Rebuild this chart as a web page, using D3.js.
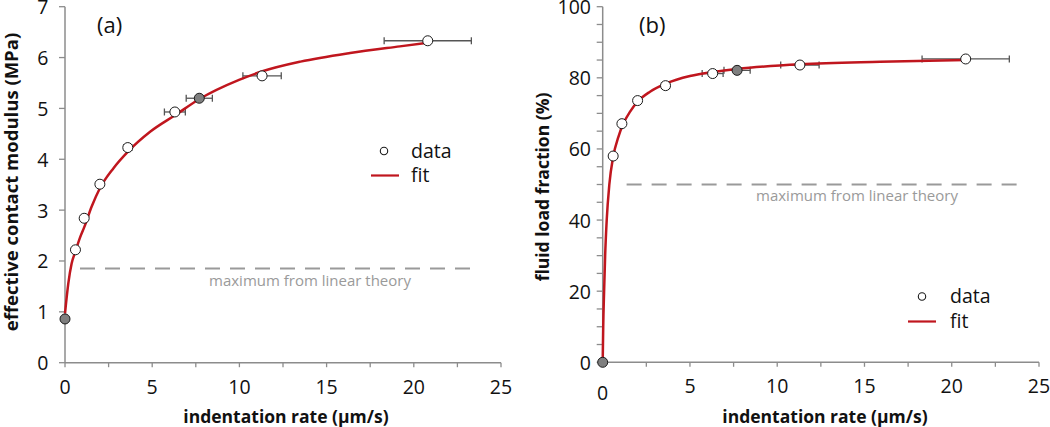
<!DOCTYPE html>
<html><head><meta charset="utf-8">
<script src="https://cdn.jsdelivr.net/npm/d3@7"></script>
<style>body{margin:0;background:#fff}svg{display:block}text{font-family:"Open Sans",sans-serif}</style>
</head><body>
<svg id="c" width="1050" height="427"></svg>
<script>
// ---- data ----
const rates = [0, 0.6, 1.1, 2.0, 3.6, 6.3, 7.7, 11.3, 20.8];
const rateErr = [0, 0, 0, 0, 0.23, 0.6, 0.75, 1.1, 2.5];
const filled = [true, false, false, false, false, false, true, false, false];
const modulus = [0.86, 2.22, 2.84, 3.51, 4.23, 4.93, 5.2, 5.64, 6.33];
const fluidLoad = [0, 58.0, 67.1, 73.6, 77.8, 81.2, 82.1, 83.6, 85.3];
const fitA_x = [0, 0.19, 0.38, 0.59, 0.86, 1.11, 1.53, 2.0, 2.77, 3.61, 4.88, 6.33, 7.69, 9.98, 11.32, 13.5, 16.35, 19.2, 20.8];
const fitA_y = [0.97, 1.56, 1.95, 2.18, 2.46, 2.67, 3.07, 3.43, 3.82, 4.15, 4.54, 4.87, 5.18, 5.56, 5.73, 5.92, 6.09, 6.22, 6.29];
const fitB_x = [0, 0.03, 0.08, 0.14, 0.23, 0.38, 0.6, 0.9, 1.17, 1.57, 2.04, 2.71, 3.63, 5.0, 6.4, 7.72, 11.34, 15.9, 20.8];
const fitB_y = [0, 10, 20, 30, 40, 50, 57.8, 63.4, 67.0, 70.5, 73.5, 76.1, 78.4, 80.5, 81.7, 82.5, 83.8, 84.5, 85.0];
const xTicks = [0, 5, 10, 15, 20, 25];
const xMinor = [2.5, 7.5, 12.5, 17.5, 22.5];
const yTicksA = [0, 1, 2, 3, 4, 5, 6, 7];
const yTicksB = [0, 20, 40, 60, 80, 100];
const yMinorB = [5, 10, 15, 25, 30, 35, 45, 50, 55, 65, 70, 75, 85, 90, 95];
const linearMaxA = 1.85, linearMaxB = 50;

const svg = d3.select("#c");
const axisCol = "#8c8c8c", red = "#c0161e";

function panel(o) {
  const g = svg.append("g");
  const x = d3.scaleLinear().domain([0, 25]).range(o.xr);
  const y = d3.scaleLinear().domain(o.yd).range(o.yr);
  g.append("line").attr("x1", x(0)).attr("x2", x(25)).attr("y1", y(0)).attr("y2", y(0)).attr("stroke", axisCol).attr("stroke-width", 1.5);
  g.append("line").attr("x1", x(0)).attr("x2", x(0)).attr("y1", y(0)).attr("y2", y(o.yd[1])).attr("stroke", axisCol).attr("stroke-width", 1.5);
  g.selectAll(".xt").data(xTicks.concat(xMinor)).join("line")
    .attr("x1", d => x(d)).attr("x2", d => x(d)).attr("y1", y(0)).attr("y2", y(0) + 4.5)
    .attr("stroke", axisCol).attr("stroke-width", 1.3);
  g.selectAll(".xl").data(xTicks).join("text")
    .attr("x", d => x(d)).attr("y", d => y(0) + 31 + (d === 0 ? o.zeroDrop : 0))
    .attr("text-anchor", "middle").attr("font-size", 19.5).attr("fill", "#111").text(d => d);
  g.selectAll(".yt").data(o.yt.concat(o.ym)).join("line")
    .attr("x1", x(0) - 6).attr("x2", x(0)).attr("y1", d => y(d)).attr("y2", d => y(d))
    .attr("stroke", axisCol).attr("stroke-width", 1.3);
  g.selectAll(".yl").data(o.yt).join("text")
    .attr("x", o.ylx).attr("y", d => y(d) + 7.5)
    .attr("text-anchor", "end").attr("font-size", 19.5).attr("fill", "#111").text(d => d);
  g.append("text").attr("x", o.xtx).attr("y", 423).attr("text-anchor", "middle")
    .attr("font-size", 17.5).attr("font-weight", "bold").attr("fill", "#111").text("indentation rate (µm/s)");
  g.append("text").attr("transform", `translate(${o.ytx},${o.yty}) rotate(-90)`).attr("text-anchor", "middle")
    .attr("font-size", o.yts).attr("font-weight", "bold").attr("fill", "#111").text(o.ytitle);
  g.append("text").attr("x", o.lab[0]).attr("y", o.lab[1]).attr("font-size", 22).attr("fill", "#111").text(o.label);
  g.append("line").attr("x1", x(o.dash[0])).attr("x2", x(o.dash[1])).attr("y1", y(o.lm)).attr("y2", y(o.lm))
    .attr("stroke", "#9a9a9a").attr("stroke-width", 2).attr("stroke-dasharray", "15,10");
  g.append("text").attr("x", o.mt[0]).attr("y", o.mt[1]).attr("text-anchor", "middle")
    .attr("font-size", 15).attr("fill", "#9a9a9a").text("maximum from linear theory");
  const pts = rates.map((r, i) => ({x: r, y: o.vals[i], e: rateErr[i], f: filled[i]}));
  const eb = g.selectAll(".eb").data(pts.filter(p => p.e > 0)).join("g").attr("stroke", "#555").attr("stroke-width", 1.3);
  eb.append("line").attr("x1", p => x(p.x - p.e)).attr("x2", p => x(p.x + p.e)).attr("y1", p => y(p.y)).attr("y2", p => y(p.y));
  eb.append("line").attr("x1", p => x(p.x - p.e)).attr("x2", p => x(p.x - p.e)).attr("y1", p => y(p.y) - 3.5).attr("y2", p => y(p.y) + 3.5);
  eb.append("line").attr("x1", p => x(p.x + p.e)).attr("x2", p => x(p.x + p.e)).attr("y1", p => y(p.y) - 3.5).attr("y2", p => y(p.y) + 3.5);
  const line = d3.line().x(d => x(d[0])).y(d => y(d[1])).curve(d3.curveMonotoneX);
  g.append("path").datum(o.fx.map((v, i) => [v, o.fy[i]])).attr("d", line)
    .attr("fill", "none").attr("stroke", red).attr("stroke-width", 2.5);
  g.selectAll(".pt").data(pts).join("circle").attr("cx", p => x(p.x)).attr("cy", p => y(p.y)).attr("r", 5)
    .attr("fill", p => p.f ? "#7f7f7f" : "#fff").attr("stroke", "#1a1a1a").attr("stroke-width", 1);
  const L = o.leg;
  g.append("circle").attr("cx", L[0]).attr("cy", L[1]).attr("r", 3.7).attr("fill", "#fff").attr("stroke", "#1a1a1a").attr("stroke-width", 1.1);
  g.append("text").attr("x", L[2]).attr("y", L[1] + 6.5).attr("font-size", 19.5).attr("fill", "#111").text("data");
  g.append("line").attr("x1", L[3]).attr("x2", L[3] + 28).attr("y1", L[4]).attr("y2", L[4]).attr("stroke", red).attr("stroke-width", 2.2);
  g.append("text").attr("x", L[2]).attr("y", L[4] + 6).attr("font-size", 19.5).attr("fill", "#111").text("fit");
}

panel({xr: [65, 501], yd: [0, 7], yr: [362.7, 6.7], yt: yTicksA, ym: [], ylx: 48.5, zeroDrop: 0,
  xtx: 286, ytx: 18, yty: 182, yts: 18.5, ytitle: "effective contact modulus (MPa)", label: "(a)", lab: [97, 33],
  lm: linearMaxA, dash: [0.86, 23.4], mt: [310, 286], vals: modulus, fx: fitA_x, fy: fitA_y,
  leg: [384, 151, 411, 371, 175.5]});
panel({xr: [602.7, 1039], yd: [0, 100], yr: [362.3, 6.7], yt: yTicksB, ym: yMinorB, ylx: 591, zeroDrop: 7,
  xtx: 825, ytx: 549, yty: 187, yts: 17.5, ytitle: "fluid load fraction (%)", label: "(b)", lab: [639, 33],
  lm: linearMaxB, dash: [1.37, 23.9], mt: [857, 201], vals: fluidLoad, fx: fitB_x, fy: fitB_y,
  leg: [922, 296.5, 950, 908, 321.5]});
</script>
</body></html>
